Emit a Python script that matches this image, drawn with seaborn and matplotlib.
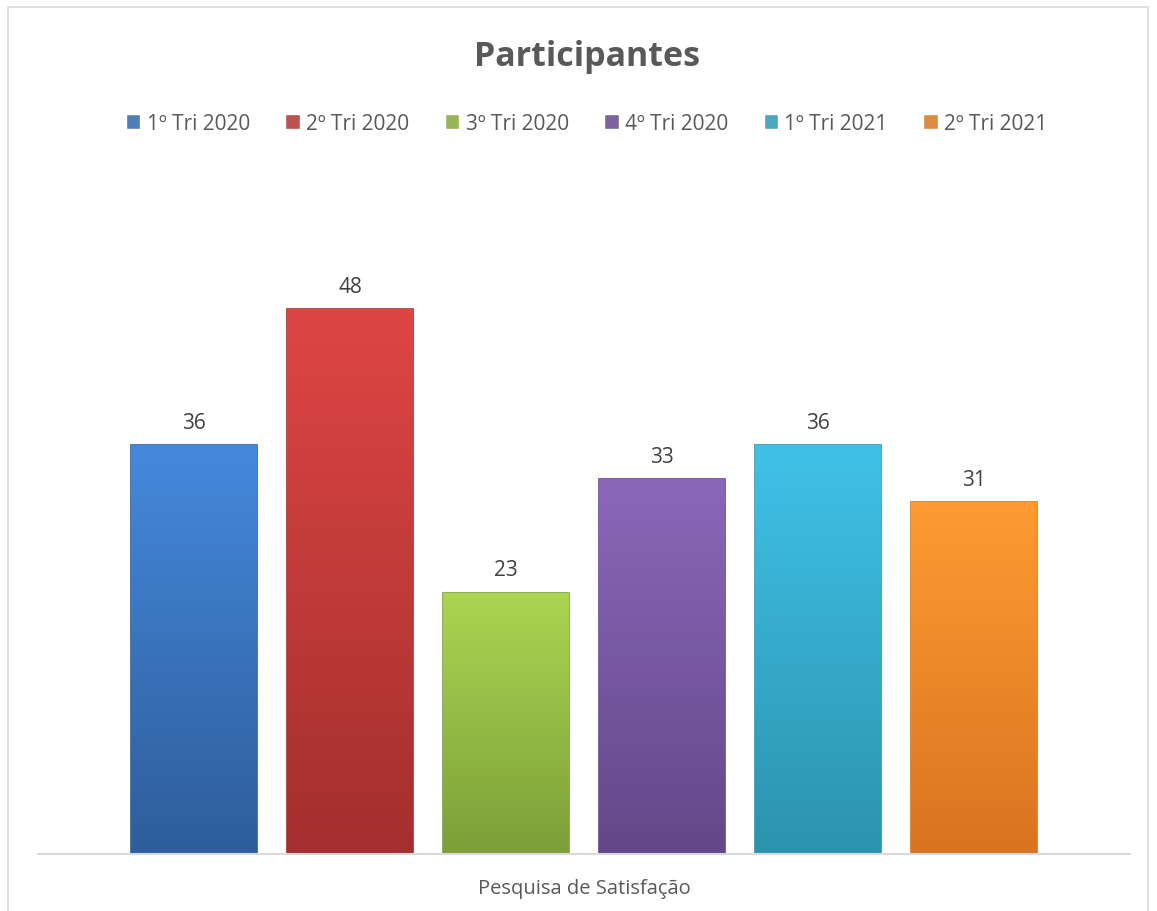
import matplotlib
matplotlib.use("Agg")
import matplotlib.pyplot as plt
import matplotlib.colors as mcolors
from matplotlib.patches import Rectangle
import numpy as np
import seaborn as sns
import pandas as pd

# data
periods = ["1º Tri 2020", "2º Tri 2020", "3º Tri 2020", "4º Tri 2020", "1º Tri 2021", "2º Tri 2021"]
participants = [36, 48, 23, 33, 36, 31]
category = ["Pesquisa de Satisfação"] * len(periods)

# top / bottom shades for the gradient fill
top_colors = ["#4589DC", "#DE4644", "#ABD652", "#8B67BA", "#40C2E8", "#FF9B32"]
bottom_colors = ["#2E5D9B", "#A32F2E", "#7C9F38", "#624888", "#2C93AE", "#D87420"]
mid_colors = ["#3D7BCC", "#CF403E", "#9AC548", "#7B5BA7", "#38B1D5", "#F28C2A"]

df = pd.DataFrame({"cat": category, "period": periods, "n": participants})

sns.set_style("white")
plt.rcParams["font.family"] = ["Open Sans", "DejaVu Sans"]
text_color = "#595959"

fig = plt.figure(figsize=(11.57, 9.12), dpi=100)
ax = fig.add_axes([0.0328, 0.0625, 0.9438, 0.7467])

sns.barplot(
    data=df, x="cat", y="n", hue="period", hue_order=periods,
    palette=mid_colors, width=0.857, gap=0.195, ax=ax, legend=True,
)

# gradient fill clipped to each bar
for container, c_top, c_bot in zip(ax.containers, top_colors, bottom_colors):
    for patch in container:
        x0, y0 = patch.get_x(), patch.get_y()
        w, h = patch.get_width(), patch.get_height()
        cmap = mcolors.LinearSegmentedColormap.from_list("g", [c_bot, c_top])
        grad = np.linspace(1, 0, 256).reshape(-1, 1)
        im = ax.imshow(grad, cmap=cmap, aspect="auto", extent=[x0, x0 + w, y0, y0 + h],
                       zorder=patch.get_zorder() + 0.1)
        im.set_clip_path(patch)
        patch.set_edgecolor(c_bot)
        patch.set_linewidth(1.2)
    ax.bar_label(container, padding=9, fontsize=15, color="#404040")

ax.set_xlim(-0.5, 0.5)
ax.set_ylim(0, 60)
ax.set_yticks([])
ax.set_ylabel("")
ax.set_xlabel("")
ax.tick_params(axis="x", length=0, labelsize=14.5, labelcolor=text_color, pad=17)
for s in ["top", "left", "right"]:
    ax.spines[s].set_visible(False)
ax.spines["bottom"].set_color("#d9d9d9")
ax.spines["bottom"].set_linewidth(1.5)

handles, labels = ax.get_legend_handles_labels()
ax.legend_.remove()
fig.legend(handles, labels, loc="center", bbox_to_anchor=(0.507, 0.864), ncol=6,
           frameon=False, fontsize=15, handlelength=0.7, handleheight=0.7,
           handletextpad=0.3, columnspacing=1.7, labelcolor=text_color)

fig.text(0.507, 0.938, "Participantes", ha="center", va="center",
         fontsize=24.5, fontweight="bold", color=text_color)

# chart border
fig.patches.append(Rectangle((8 / 1157, -0.05), 1140 / 1157, 1.05 - 8 / 912,
                             transform=fig.transFigure, fill=False,
                             edgecolor="#d9d9d9", linewidth=1.2))

fig.savefig("out.png", dpi=100)
